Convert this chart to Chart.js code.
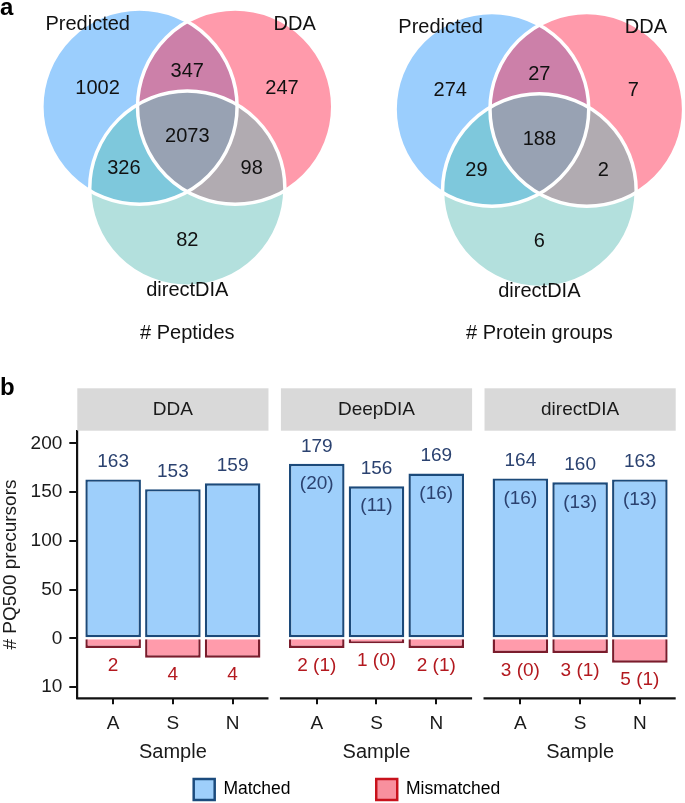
<!DOCTYPE html>
<html>
<head>
<meta charset="utf-8">
<script src="https://cdn.jsdelivr.net/npm/chart.js@4.4.1/dist/chart.umd.min.js"></script>
<style>
  body { margin: 0; background: #fff; }
  #wrap { position: relative; width: 685px; height: 803px; overflow: hidden; }
  canvas { position: absolute; left: 0; }
  .tag { position: absolute; left: 0; font: bold 24px/24px "Liberation Sans", Arial, sans-serif; color: #000; }
</style>
</head>
<body>
<div id="wrap">
  <canvas id="vennChart" width="685" height="345" style="top:0"></canvas>
  <canvas id="barChart" width="685" height="430" style="top:380px"></canvas>
  <div class="tag" style="top:-5px">a</div>
  <div class="tag" style="top:375px">b</div>
</div>
<script>
// ---- panel a : venn counts ----
const vennSets = ['Predicted', 'DDA', 'directDIA'];
const vennTitles = ['# Peptides', '# Protein groups'];
// order: Pred only, DDA only, directDIA only, Pred&DDA, Pred&directDIA, DDA&directDIA, all three
const peptideCounts = [1002, 247, 82, 347, 326, 98, 2073];
const proteinCounts = [274, 7, 6, 27, 29, 2, 188];

// ---- panel b : PQ500 precursors ----
const methods = ['DDA', 'DeepDIA', 'directDIA'];
const samples = ['A', 'S', 'N'];
const matched = [[163, 153, 159], [179, 156, 169], [164, 160, 163]];
const matchedInner = [null, [20, 11, 16], [16, 13, 13]];
const mismatched = [[2, 4, 4], [2, 1, 2], [3, 3, 5]];
const mismatchedInner = [null, [1, 0, 1], [0, 1, 1]];
const yTicks = [-50, 0, 50, 100, 150, 200];
const mismatchScale = 5; // mismatched drawn 5x below zero

const FONT = '"Liberation Sans", Arial, Helvetica, sans-serif';
Chart.defaults.font.family = FONT;
Chart.defaults.color = '#1a1a1a';

// venn drawing (unit circle coordinates)
const vennCenters = [[-0.49, 0], [0.49, 0], [0, 0.84]];
const vennColors = ['#9bcefd', '#ff9aab', '#b3e0dd', '#cc80a9', '#7ec8dc', '#b1abb1', '#98a2b3'];
const regionPos = [[-0.92, -0.19], [0.97, -0.19], [0, 1.37], [0, -0.36], [-0.65, 0.63], [0.66, 0.63], [0, 0.31]];
const setPos = [[-1.02, -0.84], [1.10, -0.84], [0, 1.88]];
const vennPlaces = [{cx: 0, cy: 0, r: 1}, {cx: 3.607, cy: 0.027, r: 0.992}];

const vennPlugin = {
  id: 'venn',
  afterDatasetsDraw(chart) {
    const ctx = chart.ctx;
    const sx = chart.scales.x, sy = chart.scales.y;
    const unit = sx.getPixelForValue(1) - sx.getPixelForValue(0);
    [peptideCounts, proteinCounts].forEach((counts, gi) => {
      const g = vennPlaces[gi];
      const P = (u, v) => [sx.getPixelForValue(g.cx + u * g.r), sy.getPixelForValue(g.cy + v * g.r)];
      const C = vennCenters.map(c => { const p = P(c[0], c[1]); return {x: p[0], y: p[1], r: unit * g.r}; });
      const path = c => { ctx.beginPath(); ctx.arc(c.x, c.y, c.r, 0, Math.PI * 2); };
      const fillIn = (clips, idx, color) => {
        ctx.save();
        clips.forEach(i => { path(C[i]); ctx.clip(); });
        path(C[idx]); ctx.fillStyle = color; ctx.fill();
        ctx.restore();
      };
      fillIn([], 0, vennColors[0]);
      fillIn([], 1, vennColors[1]);
      fillIn([], 2, vennColors[2]);
      fillIn([0], 1, vennColors[3]);
      fillIn([0], 2, vennColors[4]);
      fillIn([1], 2, vennColors[5]);
      fillIn([0, 1], 2, vennColors[6]);
      ctx.save();
      ctx.strokeStyle = '#fff';
      ctx.lineWidth = 3.5;
      C.forEach(c => { path(c); ctx.stroke(); });
      ctx.fillStyle = '#111';
      ctx.textAlign = 'center';
      ctx.textBaseline = 'middle';
      ctx.font = '20px ' + FONT;
      counts.forEach((n, i) => { const p = P(regionPos[i][0], regionPos[i][1]); ctx.fillText(String(n), p[0], p[1]); });
      vennSets.forEach((s, i) => { const p = P(setPos[i][0], setPos[i][1]); ctx.fillText(s, p[0], p[1]); });
      const t = P(0, 2.32);
      ctx.fillText(vennTitles[gi], t[0], t[1]);
      ctx.restore();
    });
  }
};

new Chart(document.getElementById('vennChart'), {
  type: 'scatter',
  data: { datasets: [{ data: [] }] },
  options: {
    responsive: false,
    animation: false,
    layout: { padding: 0 },
    plugins: { legend: { display: false }, tooltip: { enabled: false } },
    scales: {
      x: { type: 'linear', min: -1.919, max: 5.099, display: false },
      y: { type: 'linear', min: -1.093, max: 2.442, reverse: true, display: false }
    }
  },
  plugins: [vennPlugin]
});

// ---- bar chart ----
const panelStep = 3.408;
const xPositions = [];
const matchedPts = [];
const mismatchedPts = [];
methods.forEach((m, k) => {
  samples.forEach((s, j) => {
    const xv = k * panelStep + j + 1;
    xPositions.push(xv);
    matchedPts.push({x: xv, y: matched[k][j]});
    mismatchedPts.push({x: xv, y: -mismatched[k][j] * mismatchScale});
  });
});

const facetPlugin = {
  id: 'facets',
  afterDatasetsDraw(chart) {
    const ctx = chart.ctx, area = chart.chartArea;
    const sx = chart.scales.x;
    const mMeta = chart.getDatasetMeta(0), xMeta = chart.getDatasetMeta(1);
    ctx.save();
    ctx.textAlign = 'center';
    ctx.textBaseline = 'middle';
    methods.forEach((m, k) => {
      const left = sx.getPixelForValue(k * panelStep + 0.4);
      const right = sx.getPixelForValue(k * panelStep + 3.6);
      // strip
      ctx.fillStyle = '#d9d9d9';
      ctx.fillRect(left, area.top - 42.4, right - left, 42.4);
      ctx.fillStyle = '#1a1a1a';
      ctx.font = '19px ' + FONT;
      ctx.fillText(m, (left + right) / 2, area.top - 21.2);
      // bottom axis line
      ctx.strokeStyle = '#111';
      ctx.lineWidth = 2.2;
      ctx.beginPath();
      ctx.moveTo(left - 1, area.bottom);
      ctx.lineTo(right, area.bottom);
      ctx.stroke();
      // axis title
      ctx.font = '20px ' + FONT;
      ctx.fillStyle = '#1a1a1a';
      ctx.fillText('Sample', sx.getPixelForValue(k * panelStep + 2), area.bottom + 54);
      // value labels
      samples.forEach((s, j) => {
        const i = k * 3 + j;
        const bar = mMeta.data[i], mbar = xMeta.data[i];
        ctx.font = '19px ' + FONT;
        ctx.fillStyle = '#2b4270';
        ctx.fillText(String(matched[k][j]), bar.x, bar.y - 17.5);
        if (matchedInner[k]) ctx.fillText('(' + matchedInner[k][j] + ')', bar.x, bar.y + 20);
        ctx.fillStyle = '#b3191f';
        const txt = mismatchedInner[k] ? mismatched[k][j] + ' (' + mismatchedInner[k][j] + ')' : String(mismatched[k][j]);
        ctx.fillText(txt, mbar.x, mbar.y + 17.5);
      });
    });
    ctx.restore();
  }
};

new Chart(document.getElementById('barChart'), {
  type: 'bar',
  data: {
    datasets: [
      {
        label: 'Matched',
        data: matchedPts,
        backgroundColor: '#9ecffb',
        borderColor: '#1c4a7a',
        borderWidth: 2.4,
        borderSkipped: false,
        grouped: false,
        barPercentage: 0.93,
        categoryPercentage: 1,
        order: 0
      },
      {
        label: 'Mismatched',
        data: mismatchedPts,
        backgroundColor: '#ff9bab',
        borderColor: '#7a1c2c',
        borderWidth: 2.4,
        borderSkipped: 'start',
        grouped: false,
        barPercentage: 0.93,
        categoryPercentage: 1,
        order: 1
      }
    ]
  },
  options: {
    responsive: false,
    animation: false,
    layout: { padding: { left: 18.3, right: 9.3, top: 50.7, bottom: 0 } },
    plugins: {
      tooltip: { enabled: false },
      legend: {
        position: 'bottom',
        labels: {
          boxWidth: 21,
          boxHeight: 21,
          padding: 3,
          color: '#1a1a1a',
          font: { size: 17.5 },
          generateLabels: () => [
            { text: 'Matched' + ' '.repeat(17), fillStyle: '#9ecffb', strokeStyle: '#1b4b7d', lineWidth: 2.5, datasetIndex: 0 },
            { text: 'Mismatched', fillStyle: '#f8909e', strokeStyle: '#c8121c', lineWidth: 2.5, datasetIndex: 1 }
          ]
        }
      }
    },
    scales: {
      x: {
        type: 'linear',
        min: 0.4,
        max: 2 * panelStep + 3.6,
        offset: false,
        afterBuildTicks: s => { s.ticks = xPositions.map(v => ({ value: v })); },
        afterFit: s => { s.height = 77.7; },
        ticks: {
          callback: (v, i) => samples[i % 3],
          autoSkip: false,
          maxRotation: 0,
          padding: 8,
          color: '#1a1a1a',
          font: { size: 19 }
        },
        grid: { offset: false, drawOnChartArea: false, tickLength: 6, color: '#111', lineWidth: 2 },
        border: { display: false }
      },
      y: {
        type: 'linear',
        min: -61.6,
        max: 213,
        afterBuildTicks: s => { s.ticks = yTicks.map(v => ({ value: v })); },
        afterFit: s => { s.width = 59; },
        ticks: {
          callback: v => (v < 0 ? -v / mismatchScale : v),
          padding: 7,
          color: '#1a1a1a',
          font: { size: 19 }
        },
        grid: { drawOnChartArea: false, tickLength: 8, color: '#111', lineWidth: 2 },
        border: { display: true, color: '#111', width: 2.2 },
        title: {
          display: true,
          text: '# PQ500 precursors',
          color: '#1a1a1a',
          font: { size: 19 },
          padding: { top: -19, bottom: 0 }
        }
      }
    }
  },
  plugins: [facetPlugin]
});
</script>
</body>
</html>
